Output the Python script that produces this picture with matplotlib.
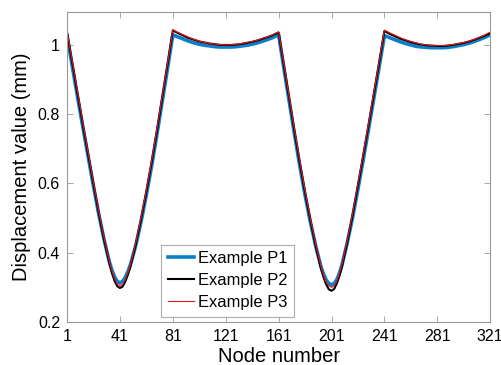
import matplotlib.pyplot as plt

plt.rcParams['font.family'] = ['Liberation Sans', 'DejaVu Sans']

# node numbers (every 4th node, every 2nd around the two minima)
nodes = (list(range(1, 33, 4)) + list(range(33, 50, 2)) + list(range(53, 193, 4))
         + list(range(193, 210, 2)) + list(range(213, 322, 4)))

# displacement values (mm)
p1 = [1.027, 0.938, 0.849, 0.762, 0.677, 0.592, 0.511, 0.438,
      0.374, 0.349, 0.330, 0.317, 0.313, 0.317, 0.328, 0.345, 0.366,
      0.421, 0.490, 0.567, 0.651, 0.742, 0.837, 0.932, 1.029,
      1.023, 1.017, 1.011, 1.006, 1.002, 0.999, 0.997, 0.995, 0.994, 0.994,
      0.994, 0.995, 0.997, 0.999, 1.002, 1.006, 1.011, 1.016, 1.022, 1.030,
      0.932, 0.837, 0.742, 0.651, 0.566, 0.489, 0.420,
      0.360, 0.338, 0.321, 0.311, 0.307, 0.311, 0.322, 0.341, 0.366,
      0.430, 0.503, 0.584, 0.669, 0.757, 0.846, 0.936, 1.027,
      1.021, 1.015, 1.009, 1.004, 1.000, 0.996, 0.994, 0.993, 0.992, 0.992,
      0.992, 0.993, 0.995, 0.998, 1.001, 1.005, 1.010, 1.016, 1.022, 1.029]

p2 = [1.037, 0.948, 0.858, 0.770, 0.684, 0.598, 0.515, 0.438,
      0.370, 0.341, 0.318, 0.303, 0.298, 0.302, 0.316, 0.336, 0.361,
      0.424, 0.497, 0.576, 0.661, 0.752, 0.848, 0.944, 1.042,
      1.034, 1.027, 1.020, 1.015, 1.010, 1.007, 1.004, 1.002, 1.000, 1.000,
      1.000, 1.001, 1.003, 1.006, 1.009, 1.013, 1.018, 1.023, 1.029, 1.036,
      0.942, 0.846, 0.751, 0.660, 0.574, 0.494, 0.420,
      0.355, 0.329, 0.308, 0.294, 0.290, 0.295, 0.311, 0.333, 0.362,
      0.432, 0.510, 0.594, 0.680, 0.768, 0.857, 0.948, 1.040,
      1.032, 1.025, 1.018, 1.013, 1.008, 1.004, 1.001, 0.999, 0.998, 0.997,
      0.997, 0.998, 1.000, 1.003, 1.006, 1.010, 1.015, 1.021, 1.027, 1.034]

p3 = [1.040, 0.952, 0.863, 0.775, 0.689, 0.603, 0.520, 0.443,
      0.375, 0.347, 0.325, 0.309, 0.305, 0.308, 0.322, 0.342, 0.366,
      0.429, 0.502, 0.581, 0.666, 0.757, 0.852, 0.947, 1.044,
      1.036, 1.029, 1.022, 1.016, 1.011, 1.007, 1.004, 1.002, 1.001, 1.000,
      1.001, 1.002, 1.004, 1.007, 1.010, 1.014, 1.019, 1.024, 1.030, 1.038,
      0.946, 0.850, 0.756, 0.665, 0.579, 0.499, 0.425,
      0.361, 0.335, 0.315, 0.304, 0.300, 0.304, 0.318, 0.340, 0.368,
      0.437, 0.515, 0.599, 0.685, 0.773, 0.862, 0.952, 1.043,
      1.035, 1.028, 1.021, 1.015, 1.010, 1.006, 1.002, 1.000, 0.998, 0.998,
      0.998, 0.999, 1.001, 1.004, 1.007, 1.011, 1.016, 1.022, 1.029, 1.037]

xticks = [1, 41, 81, 121, 161, 201, 241, 281, 321]
yticks = [0.2, 0.4, 0.6, 0.8, 1.0]
ytick_labels = ['0.2', '0.4', '0.6', '0.8', '1']

fig = plt.figure(figsize=(5.02, 3.65), dpi=100)
ax = fig.add_axes([0.1335, 0.118, 0.843, 0.849])

ax.plot(nodes, p1, color='#0a7fc7', lw=2.6, label='Example P1')
ax.plot(nodes, p2, color='black', lw=1.5, label='Example P2')
ax.plot(nodes, p3, color='#e8161b', lw=0.8, label='Example P3')

ax.set_xlim(1, 321)
ax.set_ylim(0.2, 1.095)
ax.set_xticks(xticks)
ax.set_yticks(yticks)
ax.set_yticklabels(ytick_labels)

for s in ax.spines.values():
    s.set_color('#999999')
    s.set_linewidth(0.8)
ax.tick_params(direction='in', length=4, width=0.6, color='#999999',
               top=True, right=True, labelsize=11.5, pad=5)

ax.set_xlabel('Node number', fontsize=14.5, labelpad=2)
ax.set_ylabel('Displacement value (mm)', fontsize=14.5, labelpad=5)

leg = ax.legend(loc='lower left', bbox_to_anchor=(0.222, 0.017), fontsize=11.9,
                frameon=True, fancybox=False, handlelength=1.6, handletextpad=0.25,
                borderpad=0.4, labelspacing=0.42, borderaxespad=0.0)
leg.get_frame().set_edgecolor('#999999')
leg.get_frame().set_linewidth(0.8)

fig.savefig('out.png', dpi=100)
